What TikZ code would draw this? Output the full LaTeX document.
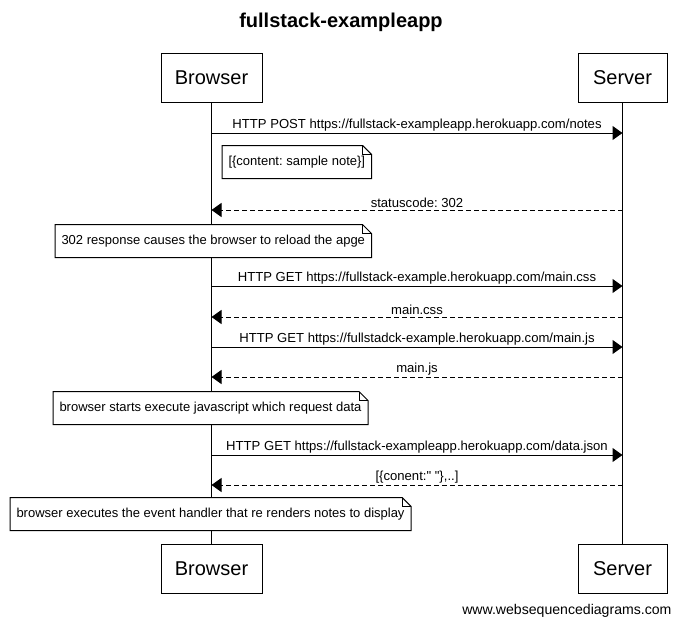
\documentclass[tikz,border=0pt]{standalone}
\usepackage{fontspec}
\setmainfont{Liberation Sans}[Ligatures=TeXOff]
\usetikzlibrary{arrows.meta}
\frenchspacing

% outline of a note with a folded corner
\newcommand\notefold[1]{%
	\draw (#1.south west) -- (#1.north west) -- ([xshift=-9pt]#1.north east)
		-- ([yshift=-9pt]#1.north east) -- (#1.south east) -- cycle;
	\draw ([xshift=-9pt]#1.north east) |- ([yshift=-9pt]#1.north east);
}

\begin{document}
\begin{tikzpicture}[x=1pt,y=-1pt,line width=1pt,
		actor/.style={draw,fill=white,minimum height=49pt,font=\fontsize{20}{24}\selectfont},
		msg/.style={-{Triangle[length=10pt,width=14pt]}},
		reply/.style={msg,dash pattern=on 5pt off 3pt},
		lbl/.style={font=\fontsize{13.1}{15}\selectfont,above,inner sep=1.5pt},
		note/.style={fill=white,anchor=west,minimum height=32pt,inner xsep=6pt,font=\fontsize{13}{15}\selectfont}]
	\useasboundingbox (0,0) rectangle (682,627);

	\node[font=\fontsize{20}{24}\selectfont\bfseries] (title) at (341,22) {fullstack-exampleapp};

	% lifelines
	\coordinate (btop) at (211.5,102);
	\coordinate (bbot) at (211.5,545);
	\coordinate (stop) at (622.5,102);
	\coordinate (sbot) at (622.5,545);
	\draw (btop) -- (bbot);
	\draw (stop) -- (sbot);

	\begin{scope}[every node/.style={actor}]
		\node[minimum width=101pt] (browser) at (211.5,77.5) {Browser};
		\node[minimum width=89pt] (server) at (622.5,77.5) {Server};
		\node[minimum width=101pt] (browser2) at (211.5,569) {Browser};
		\node[minimum width=89pt] (server2) at (622.5,569) {Server};
	\end{scope}

	% message levels
	\foreach \y/\n in {133/1,210/2,286/3,317/4,347/5,377/6,455/7,485/8} {
		\coordinate (b\n) at (211.5,\y);
		\coordinate (s\n) at (622.5,\y);
	}

	\draw[msg] (b1) -- node[lbl] {HTTP POST https://fullstack-exampleapp.herokuapp.com/notes} (s1);
	\node[note] (n1) at (222,162) {[\{content: sample note\}]};
	\notefold{n1}
	\draw[reply] (s2) -- node[lbl] {statuscode: 302} (b2);
	\node[note] (n2) at (55,241) {302 response causes the browser to reload the apge};
	\notefold{n2}
	\draw[msg] (b3) -- node[lbl] {HTTP GET https://fullstack-example.herokuapp.com/main.css} (s3);
	\draw[reply] (s4) -- node[lbl] {main.css} (b4);
	\draw[msg] (b5) -- node[lbl] {HTTP GET https://fullstadck-example.herokuapp.com/main.js} (s5);
	\draw[reply] (s6) -- node[lbl] {main.js} (b6);
	\node[note] (n3) at (53,408) {browser starts execute javascript which request data};
	\notefold{n3}
	\draw[msg] (b7) -- node[lbl] {HTTP GET https://fullstack-exampleapp.herokuapp.com/data.json} (s7);
	\draw[reply] (s8) -- node[lbl] {[\{conent:" "\},..]} (b8);
	\node[note] (n4) at (10,514) {browser executes the event handler that re renders notes to display};
	\notefold{n4}

	\node[anchor=east,inner sep=0pt,font=\fontsize{14.1}{17}\selectfont] (footer) at (672,611) {www.websequencediagrams.com};
\end{tikzpicture}
\end{document}
